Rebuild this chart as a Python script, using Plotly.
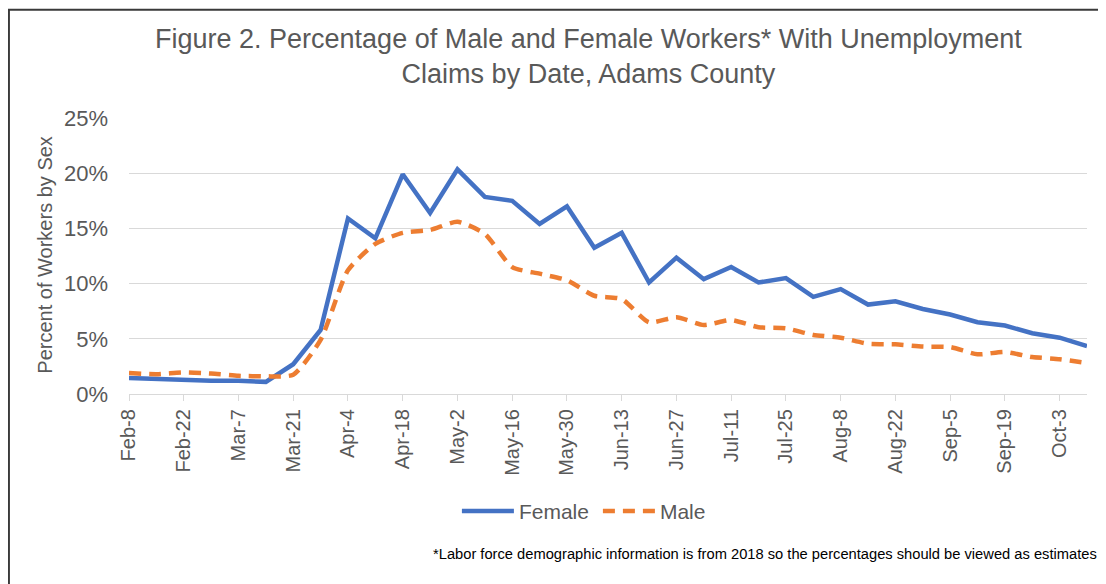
import plotly.graph_objects as go

weeks = ["Feb-8", "Feb-15", "Feb-22", "Feb-29", "Mar-7", "Mar-14", "Mar-21", "Mar-28",
         "Apr-4", "Apr-11", "Apr-18", "Apr-25", "May-2", "May-9", "May-16", "May-23",
         "May-30", "Jun-6", "Jun-13", "Jun-20", "Jun-27", "Jul-4", "Jul-11", "Jul-18",
         "Jul-25", "Aug-1", "Aug-8", "Aug-15", "Aug-22", "Aug-29", "Sep-5", "Sep-12",
         "Sep-19", "Sep-26", "Oct-3", "Oct-10"]

female = [1.45, 1.35, 1.3, 1.2, 1.2, 1.1, 2.7, 5.8,
          15.9, 14.1, 19.9, 16.4, 20.35, 17.85, 17.5, 15.4,
          17.0, 13.25, 14.6, 10.1, 12.35, 10.4, 11.5, 10.1,
          10.5, 8.8, 9.5, 8.1, 8.4, 7.7, 7.2, 6.5,
          6.2, 5.5, 5.1, 4.35]

male = [1.9, 1.8, 1.95, 1.85, 1.65, 1.6, 1.75, 4.9,
        11.2, 13.6, 14.6, 14.85, 15.6, 14.5, 11.5, 10.9,
        10.3, 8.9, 8.6, 6.5, 6.95, 6.25, 6.7, 6.05,
        5.95, 5.35, 5.1, 4.55, 4.5, 4.3, 4.25, 3.6,
        3.8, 3.35, 3.15, 2.8]

title_text = "Figure 2. Percentage of Male and Female Workers* With Unemployment<br>Claims by Date, Adams County"
y_title = "Percent of Workers by Sex"
footnote = "*Labor force demographic information is from 2018 so the percentages should be viewed as estimates"

# page has an 8px body margin: figure is drawn starting at (8, 8)
OFF = 8
W, H = 1106 - OFF, 584 - OFF
L, R, T, B = 129.3 - OFF, 19.3, 117.7 - OFF, 189.7
pw, ph = W - L - R, H - T - B

def px(x):
    return (x - OFF - L) / pw

def py(y):
    return (H - B - (y - OFF)) / ph

idx = list(range(len(weeks)))
tick_idx = idx[::2]
tick_txt = weeks[::2]

fig = go.Figure()
fig.add_trace(go.Scatter(
    x=idx, y=[v / 100 for v in female], name="Female", mode="lines",
    line=dict(color="#4472C4", width=4.5), cliponaxis=False))
fig.add_trace(go.Scatter(
    x=idx, y=[v / 100 for v in male], name="Male", mode="lines",
    line=dict(color="#ED7D31", width=4.5, dash="12px,8px", shape="spline", smoothing=0.6),
    cliponaxis=False))

gray = "#595959"
font_main = "Liberation Sans, Arial, sans-serif"
font_narrow = "Liberation Sans Narrow, Arial Narrow, Liberation Sans, sans-serif"

fig.update_layout(
    width=W, height=H,
    margin=dict(l=L, r=R, t=T, b=B, autoexpand=False),
    paper_bgcolor="white", plot_bgcolor="white",
    showlegend=True,
    legend=dict(orientation="h", x=px(457), y=py(512), xanchor="left", yanchor="middle",
                font=dict(family=font_main, size=21, color=gray), bgcolor="rgba(0,0,0,0)",
                itemwidth=52, tracegroupgap=0, entrywidth=74, entrywidthmode="pixels"),
    xaxis=dict(range=[0, len(weeks) - 1], tickmode="array", tickvals=tick_idx, ticktext=tick_txt,
               tickangle=-90, showgrid=False, showline=True, linecolor="#d9d9d9", linewidth=1.3,
               ticks="outside", ticklen=6, tickcolor="#d9d9d9", zeroline=False,
               tickfont=dict(family=font_main, size=20, color=gray)),
    yaxis=dict(range=[0, 0.25], tickvals=[0, 0.05, 0.10, 0.15, 0.20, 0.25], tickformat=".0%",
               showgrid=True, gridcolor="#d9d9d9", gridwidth=1.3, zeroline=False,
               showline=False, ticks="", ticklabelstandoff=20,
               tickfont=dict(family=font_main, size=22, color=gray)),
    annotations=[
        dict(text=title_text, xref="paper", yref="paper", x=px(589), y=py(56),
             xanchor="center", yanchor="middle", showarrow=False,
             font=dict(family=font_main, size=27, color=gray)),
        dict(text=y_title, xref="paper", yref="paper", x=px(45), y=py(255),
             xanchor="center", yanchor="middle", textangle=-90, showarrow=False,
             font=dict(family=font_main, size=20, color=gray)),
        dict(text=footnote, xref="paper", yref="paper", x=px(1099), y=py(555),
             xanchor="right", yanchor="middle", showarrow=False,
             font=dict(family=font_narrow, size=14.7, color="#000000")),
    ],
    shapes=[
        # chart frame: top and left edges visible inside the figure
        dict(type="rect", xref="paper", yref="paper", x0=px(9.2), y0=py(640), x1=px(1160), y1=py(9.2),
             line=dict(color="#3a3a3a", width=2.2), fillcolor="rgba(0,0,0,0)", layer="above"),
    ],
)

fig.write_html("out.html")
